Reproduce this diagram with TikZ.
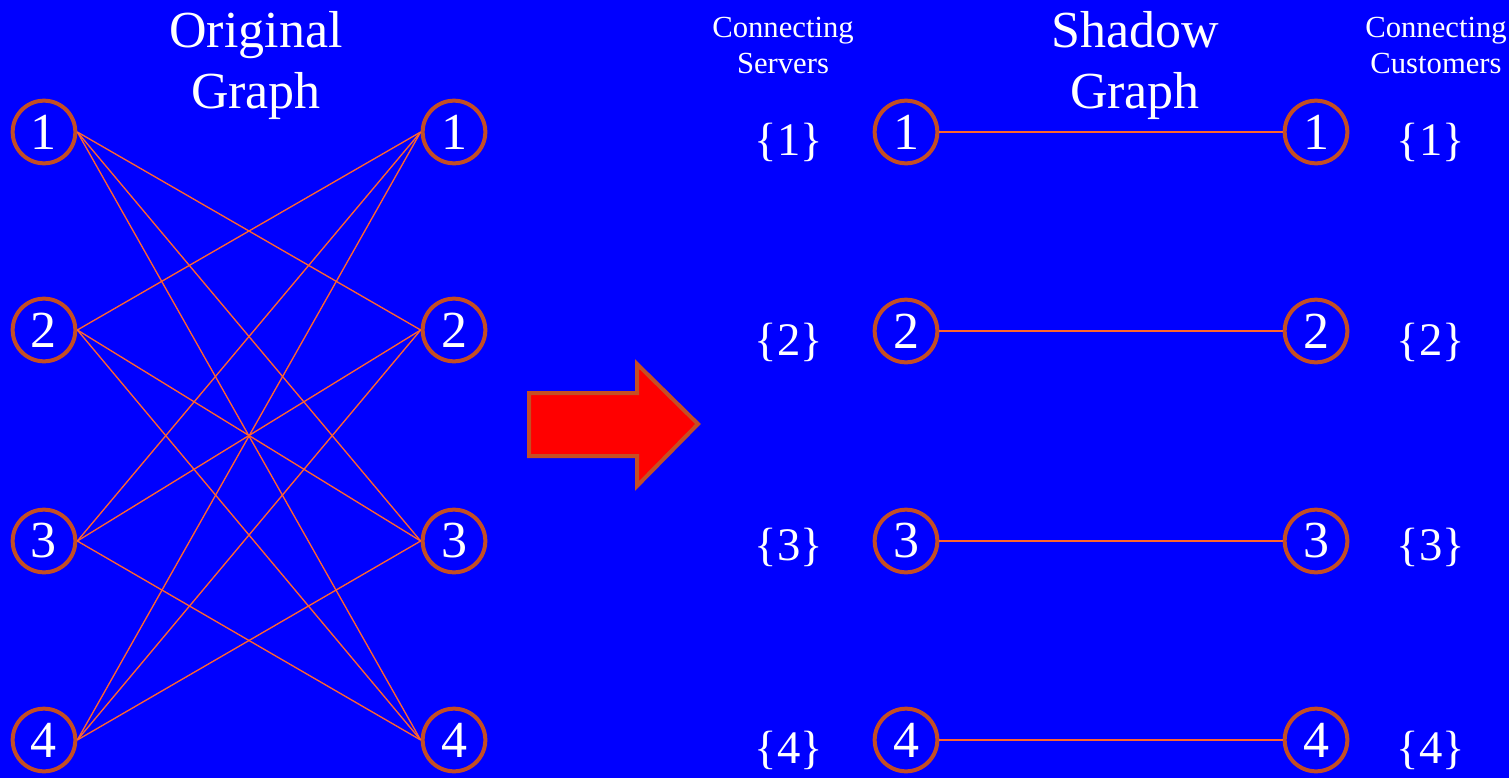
\documentclass[tikz,border=0pt]{standalone}
\usepackage{fontspec}
\setmainfont{Liberation Serif}
\definecolor{bg}{RGB}{0,0,255}
\definecolor{ring}{RGB}{196,78,36}
\definecolor{edge}{RGB}{255,100,45}
\definecolor{arrowfill}{RGB}{255,0,0}
\begin{document}
\begin{tikzpicture}[x=0.75pt,y=-0.75pt,
  vtx/.style={circle,draw=ring,line width=3pt,minimum size=47pt,inner sep=0pt,text=white,font=\fontsize{39}{39}\selectfont},
  lnk/.style={draw=edge,line width=1pt},
  title/.style={text=white,font=\fontsize{39}{39}\selectfont,anchor=base,inner sep=0pt},
  small/.style={text=white,font=\fontsize{23}{23}\selectfont,anchor=base,inner sep=0pt},
  set/.style={text=white,font=\fontsize{35}{35}\selectfont,inner sep=0pt}]
\fill[bg] (0,0) rectangle (1509,778);
\useasboundingbox (0,0) rectangle (1509,778);
% left graph
\node[vtx] (L1) at (44,132) {1};
\node[vtx] (L2) at (44,330) {2};
\node[vtx] (L3) at (44,541) {3};
\node[vtx] (L4) at (44,740) {4};
\node[vtx] (R1) at (454,132) {1};
\node[vtx] (R2) at (454,330) {2};
\node[vtx] (R3) at (454,541) {3};
\node[vtx] (R4) at (454,740) {4};
\foreach \a/\b in {1/2,1/3,1/4,2/1,2/3,2/4,3/1,3/2,3/4,4/1,4/2,4/3}
  \draw[lnk] (L\a.east) -- (R\b.west);
\node[title] (t1) at (256,47) {Original};
\node[title] (t2) at (256,108) {Graph};
% arrow
\draw[draw=ring,fill=arrowfill,line width=3pt,line join=miter]
  (529,393) -- (637,393) -- (637,364) -- (698,424) -- (637,486) -- (637,456) -- (529,456) -- cycle;
% shadow graph
\node[vtx] (S1) at (906,132) {1};
\node[vtx] (S2) at (906,331) {2};
\node[vtx] (S3) at (906,541) {3};
\node[vtx] (S4) at (906,740) {4};
\node[vtx] (C1) at (1316,132) {1};
\node[vtx] (C2) at (1316,331) {2};
\node[vtx] (C3) at (1316,541) {3};
\node[vtx] (C4) at (1316,740) {4};
\foreach \i in {1,2,3,4}
  \draw[lnk] (S\i.east) -- (C\i.west);
\node[title] (t3) at (1135,47) {Shadow};
\node[title] (t4) at (1135,108) {Graph};
\node[small] (cs1) at (783,37) {Connecting};
\node[small] (cs2) at (783,73) {Servers};
\node[small] (cc1) at (1436,37) {Connecting};
\node[small] (cc2) at (1436,73) {Customers};
\node[set] (a1) at (789,142) {\{1\}};
\node[set] (a2) at (789,342) {\{2\}};
\node[set] (a3) at (789,547) {\{3\}};
\node[set] (a4) at (789,750) {\{4\}};
\node[set] (b1) at (1431,142) {\{1\}};
\node[set] (b2) at (1431,342) {\{2\}};
\node[set] (b3) at (1431,547) {\{3\}};
\node[set] (b4) at (1431,750) {\{4\}};
\end{tikzpicture}
\end{document}
